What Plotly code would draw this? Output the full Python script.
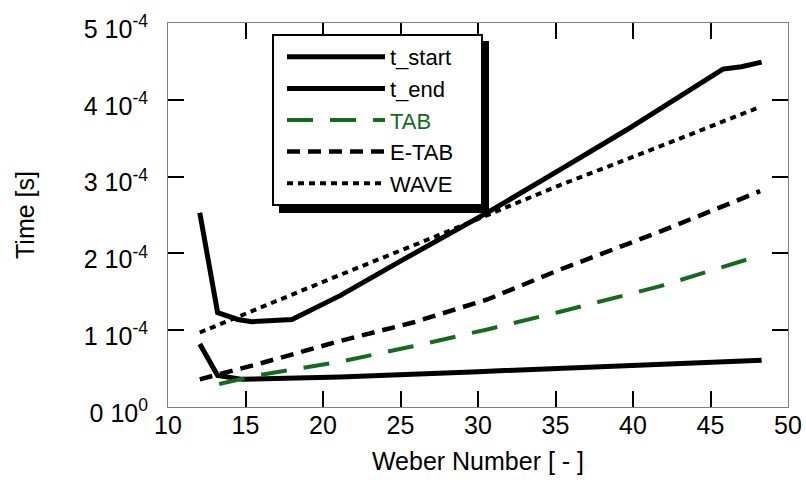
import plotly.graph_objects as go

# ---- data (times in units of 1e-4 s) ----
t_start_x = [12.05, 13.2, 14.8, 21.1, 30.0, 35.9, 42.0, 48.3]
t_start_y = [0.82, 0.41, 0.36, 0.39, 0.46, 0.51, 0.56, 0.61]

t_end_x = [12.05, 13.2, 14.5, 15.4, 18.0, 21.1, 25.0, 30.6, 35.3, 39.6, 45.8, 47.0, 48.3]
t_end_y = [2.53, 1.23, 1.14, 1.11, 1.14, 1.45, 1.90, 2.53, 3.09, 3.61, 4.40, 4.43, 4.49]

tab_x = [13.3, 16.0, 21.1, 25.8, 30.6, 35.3, 41.7, 48.0]
tab_y = [0.30, 0.42, 0.59, 0.79, 1.01, 1.24, 1.57, 1.96]

etab_x = [12.05, 16.0, 21.1, 25.8, 30.6, 35.3, 41.7, 48.2]
etab_y = [0.36, 0.57, 0.86, 1.10, 1.40, 1.79, 2.28, 2.81]

wave_x = [12.05, 16.0, 21.1, 27.5, 35.3, 41.7, 48.1]
wave_y = [0.97, 1.30, 1.72, 2.24, 2.89, 3.39, 3.90]

x_ticks = [10, 15, 20, 25, 30, 35, 40, 45, 50]
y_tick_vals = [0, 1, 2, 3, 4, 5]
y_tick_text = ["0 10<sup>0</sup>", "1 10<sup>-4</sup>", "2 10<sup>-4</sup>",
               "3 10<sup>-4</sup>", "4 10<sup>-4</sup>", "5 10<sup>-4</sup>"]

SCALE = 1e-4
GREEN = "#126b1e"
FONT = "Liberation Sans, Arial, sans-serif"

fig = go.Figure()
fig.add_trace(go.Scatter(x=t_start_x, y=[v * SCALE for v in t_start_y], mode="lines",
                         name="t_start", line=dict(color="black", width=5)))
fig.add_trace(go.Scatter(x=t_end_x, y=[v * SCALE for v in t_end_y], mode="lines",
                         name="t_end", line=dict(color="black", width=5)))
fig.add_trace(go.Scatter(x=tab_x, y=[v * SCALE for v in tab_y], mode="lines",
                         name="<span style='color:%s'>TAB</span>" % GREEN,
                         line=dict(color=GREEN, width=4, dash="26px,17px")))
fig.add_trace(go.Scatter(x=etab_x, y=[v * SCALE for v in etab_y], mode="lines",
                         name="E-TAB", line=dict(color="black", width=4.5, dash="13px,8px")))
fig.add_trace(go.Scatter(x=wave_x, y=[v * SCALE for v in wave_y], mode="lines",
                         name="WAVE", line=dict(color="black", width=4, dash="6px,5px")))

L, R, T, B = 168, 18, 23, 80
W, H = 806, 487
pw, ph = W - L - R, H - T - B

def px2x(p):
    return (p - L) / pw

def py2y(p):
    return (H - B - p) / ph

# legend frame: drop shadow + white box with black border
fig.add_shape(type="rect", xref="paper", yref="paper",
              x0=px2x(279), x1=px2x(489), y0=py2y(213), y1=py2y(41),
              fillcolor="black", line=dict(width=0), layer="above")
fig.add_shape(type="rect", xref="paper", yref="paper",
              x0=px2x(273), x1=px2x(482), y0=py2y(205), y1=py2y(35),
              fillcolor="white", line=dict(color="black", width=2), layer="above")

fig.update_layout(
    width=W, height=H,
    margin=dict(l=L, r=R, t=T, b=B, autoexpand=False),
    paper_bgcolor="white", plot_bgcolor="white",
    font=dict(family=FONT, size=25, color="black"),
    showlegend=True,
    legend=dict(x=px2x(282), y=py2y(36), xanchor="left", yanchor="top",
                bgcolor="rgba(0,0,0,0)", borderwidth=0,
                font=dict(size=22, family=FONT), itemwidth=98,
                tracegroupgap=0),
    xaxis=dict(range=[10, 50], tickvals=x_ticks, ticks="inside", ticklen=16,
               tickcolor="black", tickwidth=1.5, showline=True, linecolor="#808080",
               linewidth=1, mirror="ticks", showgrid=False, zeroline=False,
               tickfont=dict(size=25), ticklabelstandoff=-4,
               title=dict(text="Weber Number [ - ]", font=dict(size=25), standoff=14)),
    yaxis=dict(range=[0, 5e-4], tickvals=[v * SCALE for v in y_tick_vals],
               ticktext=y_tick_text, ticks="inside", ticklen=16, tickcolor="black",
               tickwidth=1.5, showline=True, linecolor="#808080", linewidth=1,
               mirror="ticks", showgrid=False, zeroline=False,
               tickfont=dict(size=25), ticklabelstandoff=14, ticklabelshift=6,
               title=dict(text="Time [s]", font=dict(size=25), standoff=42)),
)

fig.write_html("out.html")
